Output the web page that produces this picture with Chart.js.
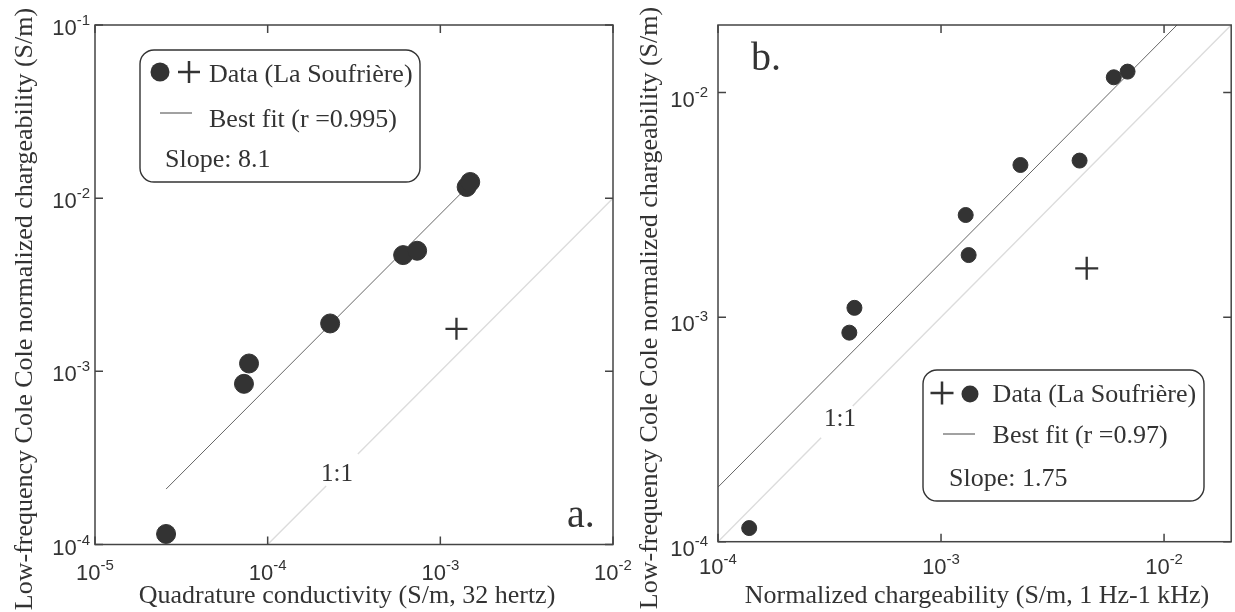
<!DOCTYPE html>
<html><head><meta charset="utf-8">
<script src="https://cdn.jsdelivr.net/npm/chart.js@4/dist/chart.umd.min.js"></script>
<style>
html,body{margin:0;padding:0;background:#fff;overflow:hidden;width:1235px;height:612px;position:relative;}
canvas{position:absolute;top:0;}
#ca{left:0;} #cb{left:615px;}
</style></head><body>
<canvas id="ca" width="660" height="612"></canvas>
<canvas id="cb" width="630" height="612"></canvas>
<script>
// ---------- Panel a data ----------
const aCircleX = [2.58e-5, 7.29e-5, 7.80e-5, 2.30e-4, 6.09e-4, 7.34e-4, 1.42e-3, 1.49e-3];
const aCircleY = [1.15e-4, 8.47e-4, 1.11e-3, 1.89e-3, 4.69e-3, 4.97e-3, 1.16e-2, 1.24e-2];
const aPlusX = [1.24e-3];
const aPlusY = [1.76e-3];
const aFitX = [2.58e-5, 1.47e-3];
const aFitY = [2.09e-4, 1.19e-2];
const aOneToOneLow = [1e-4, 2.18e-4];
const aOneToOneHigh = [3.33e-4, 1e-2];
const aXTicks = ['10^-5', '10^-4', '10^-3', '10^-2'];
const aYTicks = ['10^-4', '10^-3', '10^-2', '10^-1'];
const aXTitle = 'Quadrature conductivity (S/m, 32 hertz)';
const aYTitle = 'Low-frequency Cole Cole normalized chargeability (S/m)';
const aLegendData = 'Data (La Soufrière)';
const aLegendFit = 'Best fit (r =0.995)';
const aLegendSlope = 'Slope: 8.1';

// ---------- Panel b data ----------
const bCircleX = [1.38e-4, 3.88e-4, 4.09e-4, 1.29e-3, 1.33e-3, 2.27e-3, 4.18e-3, 5.95e-3, 6.86e-3];
const bCircleY = [1.15e-4, 8.53e-4, 1.10e-3, 2.85e-3, 1.89e-3, 4.76e-3, 4.98e-3, 1.17e-2, 1.24e-2];
const bPlusX = [4.50e-3];
const bPlusY = [1.65e-3];
const bFitX = [1e-4, 1.143e-2];
const bFitY = [1.75e-4, 2e-2];
const bOneToOneLow = [1e-4, 2.9e-4];
const bOneToOneHigh = [4.02e-4, 2e-2];
const bXTicks = ['10^-4', '10^-3', '10^-2'];
const bYTicks = ['10^-4', '10^-3', '10^-2'];
const bXTitle = 'Normalized chargeability (S/m, 1 Hz-1 kHz)';
const bYTitle = 'Low-frequency Cole Cole normalized chargeability (S/m)';
const bLegendData = 'Data (La Soufrière)';
const bLegendFit = 'Best fit (r =0.97)';
const bLegendSlope = 'Slope: 1.75';

// ---------- helpers ----------
const SERIF = '"Liberation Serif", "Times New Roman", serif';
const SANS = '"Liberation Sans", Arial, sans-serif';
const INK = '#333333';
const pts = (xs, ys) => xs.map((v, i) => ({x: v, y: ys[i]}));
const diag = (vs) => vs.map(v => ({x: v, y: v}));
const tickValue = (lbl) => Number('1e' + lbl.split('^')[1]);

function pow10(ctx, label, x, base, align) {
  const parts = label.split('^');
  ctx.textAlign = 'left';
  ctx.textBaseline = 'alphabetic';
  ctx.font = '22px ' + SANS;
  const w1 = ctx.measureText(parts[0]).width;
  ctx.font = '15px ' + SANS;
  const w2 = ctx.measureText(parts[1]).width;
  const left = align === 'center' ? x - (w1 + w2) / 2 : x - w1 - w2;
  ctx.font = '22px ' + SANS;
  ctx.fillText(parts[0], left, base);
  ctx.font = '15px ' + SANS;
  ctx.fillText(parts[1], left + w1, base - 10);
}

function roundBox(ctx, x, y, w, h, r) {
  ctx.beginPath();
  ctx.moveTo(x + r, y);
  ctx.lineTo(x + w - r, y);
  ctx.arcTo(x + w, y, x + w, y + r, r);
  ctx.lineTo(x + w, y + h - r);
  ctx.arcTo(x + w, y + h, x + w - r, y + h, r);
  ctx.lineTo(x + r, y + h);
  ctx.arcTo(x, y + h, x, y + h - r, r);
  ctx.lineTo(x, y + r);
  ctx.arcTo(x, y, x + r, y, r);
  ctx.closePath();
}

function drawPlus(ctx, cx, cy, half, lw) {
  ctx.save();
  ctx.strokeStyle = INK; ctx.lineWidth = lw;
  ctx.beginPath();
  ctx.moveTo(cx - half, cy); ctx.lineTo(cx + half, cy);
  ctx.moveTo(cx, cy - half); ctx.lineTo(cx, cy + half);
  ctx.stroke();
  ctx.restore();
}

const decor = {
  id: 'decor',
  afterDatasetsDraw(chart, args, o) {
    const ctx = chart.ctx, ca = chart.chartArea;
    const xs = chart.scales.x, ys = chart.scales.y;
    ctx.save();
    // axes box
    ctx.strokeStyle = '#444'; ctx.lineWidth = 1.5;
    ctx.strokeRect(ca.left, ca.top, ca.right - ca.left, ca.bottom - ca.top);
    // inward ticks
    ctx.beginPath();
    o.xTicks.forEach(l => {
      const p = xs.getPixelForValue(tickValue(l));
      ctx.moveTo(p, ca.bottom); ctx.lineTo(p, ca.bottom - 8);
      ctx.moveTo(p, ca.top); ctx.lineTo(p, ca.top + 8);
    });
    o.yTicks.forEach(l => {
      const p = ys.getPixelForValue(tickValue(l));
      ctx.moveTo(ca.left, p); ctx.lineTo(ca.left + 8, p);
      ctx.moveTo(ca.right, p); ctx.lineTo(ca.right - 8, p);
    });
    ctx.stroke();
    // tick labels
    ctx.fillStyle = INK;
    o.xTicks.forEach(l => pow10(ctx, l, xs.getPixelForValue(tickValue(l)), ca.bottom + o.xLabOff, 'center'));
    o.yTicks.forEach(l => pow10(ctx, l, ca.left - o.yLabGap, ys.getPixelForValue(tickValue(l)) + o.yLabOff, 'right'));
    // axis titles
    ctx.font = '26px ' + SERIF;
    ctx.textAlign = 'center'; ctx.textBaseline = 'alphabetic';
    ctx.fillText(o.xTitle, o.xTitlePos[0], o.xTitlePos[1]);
    ctx.save();
    ctx.translate(o.yTitlePos[0], o.yTitlePos[1]);
    ctx.rotate(-Math.PI / 2);
    ctx.fillText(o.yTitle, 0, 0);
    ctx.restore();
    // 1:1 label and panel tag
    ctx.font = '25px ' + SERIF;
    ctx.textAlign = 'center';
    ctx.fillText('1:1', o.one[0], o.one[1]);
    ctx.font = '40px ' + SERIF;
    ctx.textAlign = 'left';
    ctx.fillText(o.tag[0], o.tag[1], o.tag[2]);
    // legend
    const L = o.legend;
    roundBox(ctx, L.box[0], L.box[1], L.box[2], L.box[3], 14);
    ctx.fillStyle = '#fff'; ctx.fill();
    ctx.strokeStyle = '#333'; ctx.lineWidth = 1.4; ctx.stroke();
    ctx.fillStyle = INK;
    ctx.beginPath(); ctx.arc(L.circle[0], L.circle[1], L.circle[2], 0, Math.PI * 2); ctx.fill();
    drawPlus(ctx, L.plus[0], L.plus[1], L.plus[2], 2.5);
    ctx.strokeStyle = '#444'; ctx.lineWidth = 1;
    ctx.beginPath(); ctx.moveTo(L.line[0], L.line[2]); ctx.lineTo(L.line[1], L.line[2]); ctx.stroke();
    ctx.font = '26px ' + SERIF; ctx.textAlign = 'left'; ctx.fillStyle = INK;
    ctx.fillText(L.texts[0], L.t1[0], L.t1[1]);
    ctx.fillText(L.texts[1], L.t2[0], L.t2[1]);
    ctx.fillText(L.texts[2], L.t3[0], L.t3[1]);
    ctx.restore();
  }
};

function makeChart(id, d, o) {
  return new Chart(document.getElementById(id), {
    type: 'scatter',
    data: {
      datasets: [
        {data: pts(d.cx, d.cy), pointStyle: 'circle', pointRadius: d.r, backgroundColor: INK, borderColor: INK, borderWidth: 1, clip: false, order: 1},
        {data: pts(d.px, d.py), pointStyle: 'cross', pointRadius: d.pr, borderColor: INK, borderWidth: 2.3, clip: false, order: 2},
        {data: pts(d.fx, d.fy), showLine: true, pointRadius: 0, borderColor: '#555', borderWidth: 0.9, order: 3},
        {data: diag(d.oLow), showLine: true, pointRadius: 0, borderColor: '#dcdcdc', borderWidth: 1.4, order: 4},
        {data: diag(d.oHigh), showLine: true, pointRadius: 0, borderColor: '#dcdcdc', borderWidth: 1.4, order: 4}
      ]
    },
    options: {
      responsive: false, animation: false, devicePixelRatio: 1,
      layout: {padding: d.pad},
      scales: {
        x: {type: 'logarithmic', min: d.xmin, max: d.xmax, display: false},
        y: {type: 'logarithmic', min: d.ymin, max: d.ymax, display: false}
      },
      plugins: {legend: {display: false}, tooltip: {enabled: false}, decor: o}
    },
    plugins: [decor]
  });
}

makeChart('ca', {
  cx: aCircleX, cy: aCircleY, px: aPlusX, py: aPlusY, fx: aFitX, fy: aFitY,
  oLow: aOneToOneLow, oHigh: aOneToOneHigh, r: 9.5, pr: 11,
  xmin: 1e-5, xmax: 1e-2, ymin: 1e-4, ymax: 1e-1,
  pad: {left: 95, right: 47, top: 25, bottom: 67.5}
}, {
  xTicks: aXTicks, yTicks: aYTicks, xLabOff: 35, yLabOff: 10, yLabGap: 5,
  xTitle: aXTitle, xTitlePos: [347, 603], yTitle: aYTitle, yTitlePos: [31.5, 309],
  one: [337, 481], tag: ['a.', 567, 527],
  legend: {box: [140, 50, 280, 132], circle: [160, 72, 9.5], plus: [189, 72, 11], line: [160, 192, 113],
    texts: [aLegendData, aLegendFit, aLegendSlope], t1: [209, 82], t2: [209, 126.5], t3: [165, 166.5]}
});

makeChart('cb', {
  cx: bCircleX, cy: bCircleY, px: bPlusX, py: bPlusY, fx: bFitX, fy: bFitY,
  oLow: bOneToOneLow, oHigh: bOneToOneHigh, r: 7.5, pr: 11.5,
  xmin: 1e-4, xmax: 2e-2, ymin: 1e-4, ymax: 2e-2,
  pad: {left: 103, right: 7, top: 25, bottom: 70.3}
}, {
  xTicks: bXTicks, yTicks: bYTicks, xLabOff: 32, yLabOff: 14, yLabGap: 10,
  xTitle: bXTitle, xTitlePos: [362, 603], yTitle: bYTitle, yTitlePos: [42, 308],
  one: [225, 426], tag: ['b.', 136, 70],
  legend: {box: [308, 370, 281, 131], circle: [355, 394, 8.5], plus: [327, 393, 11.5], line: [328, 360, 434],
    texts: [bLegendData, bLegendFit, bLegendSlope], t1: [377.6, 402], t2: [377.6, 443], t3: [334, 486]}
});
</script>
</body></html>
